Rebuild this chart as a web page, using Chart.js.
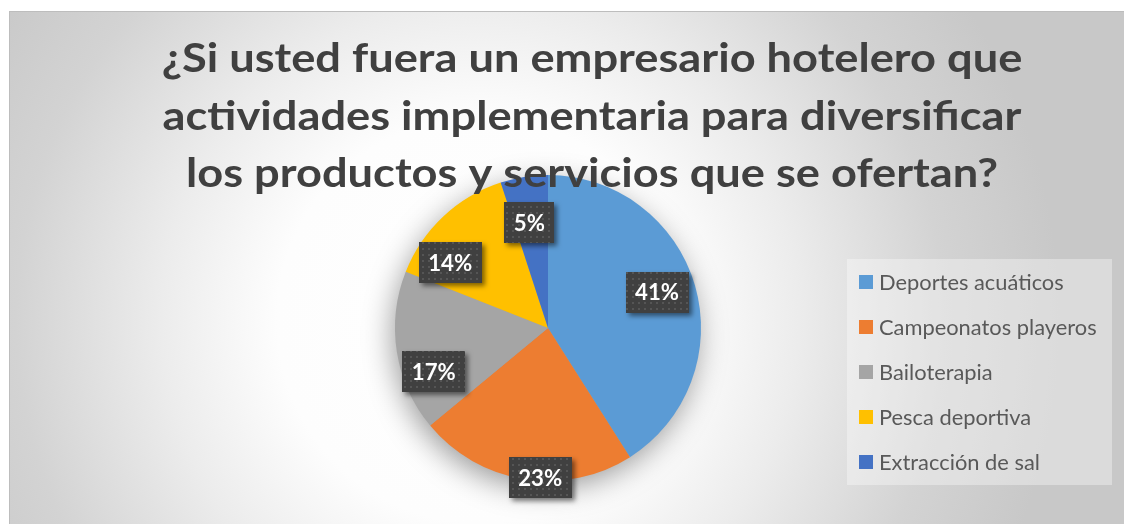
<!DOCTYPE html>
<html>
<head>
<meta charset="utf-8">
<script src="https://cdn.jsdelivr.net/npm/chart.js@4"></script>
<style>
  html, body { margin: 0; padding: 0; background: #fff; }
  #wrap { width: 1124px; height: 524px; position: relative; }
</style>
</head>
<body>
<div id="wrap"><canvas id="pieChart" width="1124" height="524"></canvas></div>
<script>
(function () {

  var categories = ['Deportes acuáticos', 'Campeonatos playeros', 'Bailoterapia', 'Pesca deportiva', 'Extracción de sal'];
  var values = [41, 23, 17, 14, 5];
  var colors = ['#5B9BD5', '#ED7D31', '#A5A5A5', '#FFC000', '#4472C4'];
  var titleLines = [
    '¿Si usted fuera un empresario hotelero que',
    'actividades implementaria para diversificar',
    'los productos y servicios que se ofertan?'
  ];

  // best-fit style label placement: fraction of radius, angle nudge (deg)
  var labelRadius = [0.75, 0.98, 0.80, 0.77, 0.70];
  var labelNudge = [-2, -6, -12, -13, -1];

  var FONT = 'Lato, "Open Sans", sans-serif';
  var measureCtx = document.createElement('canvas').getContext('2d');

  // Calibri is narrower than Lato: pick size from cap height, squeeze to width
  function fitFont(text, weight, capHeight, width) {
    var size = capHeight / 0.72;
    measureCtx.font = weight + ' ' + size + 'px ' + FONT;
    return { size: size, sx: width / measureCtx.measureText(text).width };
  }

  var titleFit = fitFont(titleLines[0], 'bold', 29, 860);
  var legendFit = fitFont(categories[0], 'normal', 15, 185);
  var labelFit = fitFont('41%', 'bold', 16, 44);

  function drawSqueezed(ctx, text, x, y, sx) {
    ctx.save();
    ctx.translate(x, y);
    ctx.scale(sx, 1);
    ctx.fillText(text, 0, 0);
    ctx.restore();
  }

  function makeDots(ctx) {
    var c = document.createElement('canvas');
    c.width = 6; c.height = 6;
    var g = c.getContext('2d');
    g.fillStyle = '#404040';
    g.fillRect(0, 0, 6, 6);
    g.fillStyle = '#555555';
    g.fillRect(2, 2, 2, 2);
    return ctx.createPattern(c, 'repeat');
  }

  var backgroundPlugin = {
    id: 'background',
    beforeDraw: function (chart) {
      var ctx = chart.ctx;
      ctx.save();
      ctx.fillStyle = '#ffffff';
      ctx.fillRect(0, 0, chart.width, chart.height);
      var grad = ctx.createRadialGradient(480, 320, 0, 480, 320, 580);
      grad.addColorStop(0, '#ffffff');
      grad.addColorStop(0.35, '#fdfdfd');
      grad.addColorStop(0.55, '#ececec');
      grad.addColorStop(0.8, '#d3d3d3');
      grad.addColorStop(1, '#c8c8c8');
      ctx.fillStyle = grad;
      ctx.fillRect(9, 11, chart.width - 9, chart.height - 11);
      ctx.strokeStyle = '#bdbdbd';
      ctx.lineWidth = 1;
      ctx.strokeRect(9.5, 11.5, chart.width, chart.height);
      ctx.restore();
    },
    beforeDatasetsDraw: function (chart) {
      var arc = chart.getDatasetMeta(0).data[0];
      if (!arc) return;
      var ctx = chart.ctx;
      ctx.save();
      ctx.shadowColor = 'rgba(0,0,0,0.4)';
      ctx.shadowBlur = 30;
      ctx.shadowOffsetX = -3;
      ctx.shadowOffsetY = 8;
      ctx.fillStyle = '#a0a0a0';
      ctx.beginPath();
      ctx.arc(arc.x, arc.y, arc.outerRadius - 1, 0, Math.PI * 2);
      ctx.fill();
      ctx.restore();
    }
  };

  var overlayPlugin = {
    id: 'overlay',
    afterDatasetsDraw: function (chart) {
      var ctx = chart.ctx;
      var meta = chart.getDatasetMeta(0);
      var total = values.reduce(function (a, b) { return a + b; }, 0);
      var dots = makeDots(ctx);

      // data labels
      ctx.save();
      ctx.font = 'bold ' + labelFit.size.toFixed(1) + 'px ' + FONT;
      ctx.textAlign = 'center';
      ctx.textBaseline = 'middle';
      meta.data.forEach(function (arc, i) {
        var mid = (arc.startAngle + arc.endAngle) / 2 + labelNudge[i] * Math.PI / 180;
        var r = arc.outerRadius * labelRadius[i];
        var x = arc.x + Math.cos(mid) * r;
        var y = arc.y + Math.sin(mid) * r;
        var txt = Math.round(values[i] / total * 100) + '%';
        var w = ctx.measureText(txt).width * labelFit.sx + 19;
        var h = 41;
        ctx.save();
        ctx.shadowColor = 'rgba(0,0,0,0.5)';
        ctx.shadowBlur = 5;
        ctx.shadowOffsetX = 3;
        ctx.shadowOffsetY = 3;
        ctx.fillStyle = dots;
        ctx.fillRect(Math.round(x - w / 2), Math.round(y - h / 2), Math.round(w), h);
        ctx.restore();
        ctx.fillStyle = '#ffffff';
        drawSqueezed(ctx, txt, x, y + 1, labelFit.sx);
      });
      ctx.restore();

      // title
      ctx.save();
      ctx.font = 'bold ' + titleFit.size.toFixed(1) + 'px ' + FONT;
      ctx.fillStyle = '#404040';
      ctx.textAlign = 'center';
      ctx.textBaseline = 'alphabetic';
      titleLines.forEach(function (line, i) {
        drawSqueezed(ctx, line, 592, 72 + i * 57.5, titleFit.sx);
      });
      ctx.restore();

      // legend
      ctx.save();
      ctx.fillStyle = 'rgba(255,255,255,0.35)';
      ctx.fillRect(847, 259, 265, 226);
      ctx.font = legendFit.size.toFixed(1) + 'px ' + FONT;
      ctx.textBaseline = 'middle';
      ctx.textAlign = 'left';
      categories.forEach(function (name, i) {
        var cy = 282 + i * 45;
        ctx.fillStyle = colors[i];
        ctx.fillRect(859, cy - 7, 14, 14);
        ctx.fillStyle = '#595959';
        drawSqueezed(ctx, name, 879, cy + 1, legendFit.sx);
      });
      ctx.restore();
    }
  };

  var ctx = document.getElementById('pieChart').getContext('2d');
  new Chart(ctx, {
    type: 'pie',
    data: {
      labels: categories,
      datasets: [{
        data: values,
        backgroundColor: colors,
        borderWidth: 0
      }]
    },
    options: {
      responsive: false,
      animation: false,
      devicePixelRatio: 1,
      layout: {
        padding: { left: 395, right: 423, top: 175, bottom: 43 }
      },
      plugins: {
        legend: { display: false },
        title: { display: false },
        tooltip: { enabled: false }
      }
    },
    plugins: [backgroundPlugin, overlayPlugin]
  });
})();
</script>
</body>
</html>
